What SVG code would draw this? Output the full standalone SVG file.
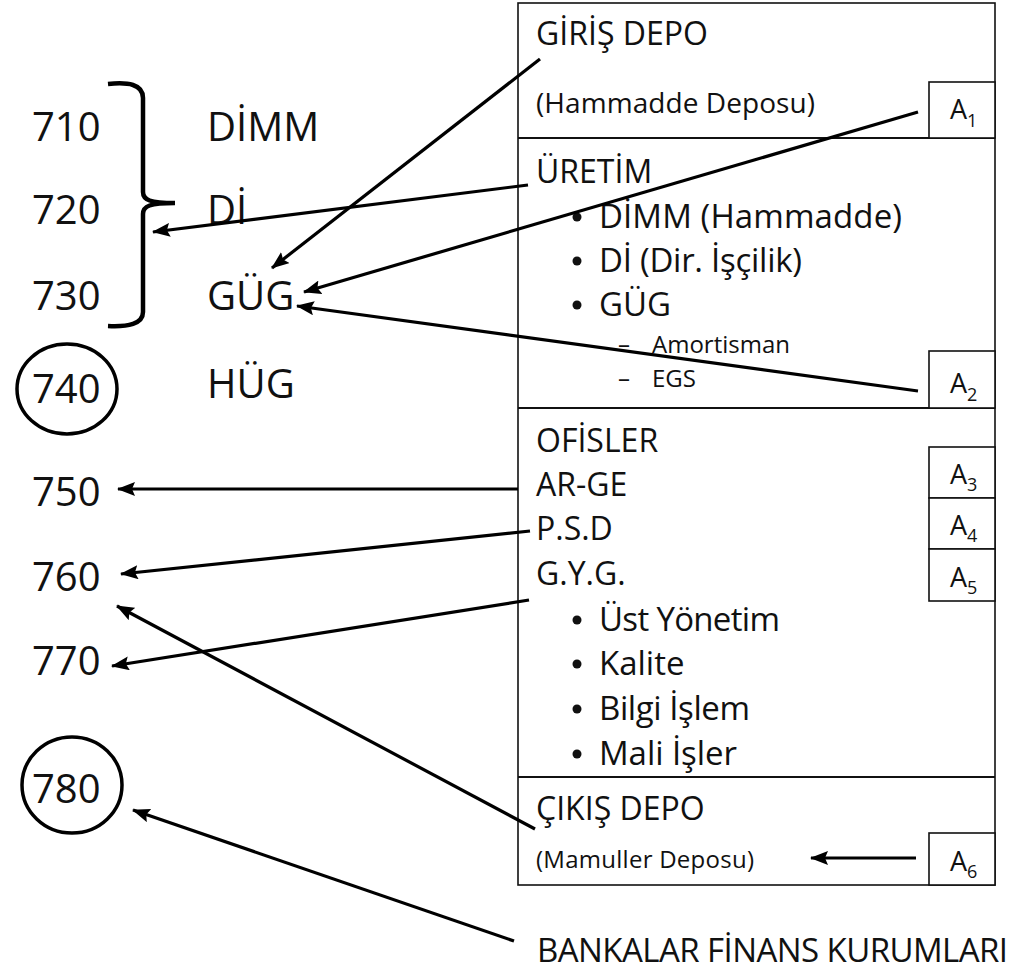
<svg xmlns="http://www.w3.org/2000/svg" width="1030" height="980" viewBox="0 0 1030 980">
<style>
text{font-family:"Open Sans","Noto Sans",sans-serif;fill:#111}
.num{font-size:40px}
.lbl{font-size:40px}
.ttl{font-size:32px}
.blt{font-size:33px}
.sml{font-size:24px}
.a{font-size:27px}
.sub{font-size:18px}
.dot{fill:#111}
.box{fill:#fff;stroke:#111;stroke-width:1.6}
.div{stroke:#111;stroke-width:2}
.con{stroke:#000;stroke-width:3.2;fill:none;marker-end:url(#ah)}
.ring{fill:none;stroke:#000;stroke-width:3.5}
</style>
<defs>
<marker id="ah" markerUnits="userSpaceOnUse" markerWidth="18" markerHeight="14" viewBox="0 0 18 14" refX="17" refY="7" orient="auto">
<path d="M0,0 L18,7 L0,14 L3,7 z" fill="#000"/>
</marker>
</defs>
<rect width="1030" height="980" fill="#fff"/>

<g id="main-box">
<rect class="box" x="518" y="3" width="477" height="882"/>
<line class="div" x1="518" y1="138" x2="995" y2="138"/>
<line class="div" x1="518" y1="408" x2="995" y2="408"/>
<line class="div" x1="518" y1="777" x2="995" y2="777"/>
</g>

<g id="giris-depo">
<text class="ttl" x="536" y="45">GİRİŞ DEPO</text>
<text class="ttl" x="536" y="113" style="font-size:28px" textLength="279">(Hammadde Deposu)</text>
</g>

<g id="uretim">
<text class="ttl" x="536" y="183">ÜRETİM</text>
<circle class="dot" cx="577" cy="217" r="4.5"/><text class="blt" x="599" y="228" textLength="303">DİMM (Hammadde)</text>
<circle class="dot" cx="577" cy="261" r="4.5"/><text class="blt" x="599" y="272" textLength="203">Dİ (Dir. İşçilik)</text>
<circle class="dot" cx="577" cy="305" r="4.5"/><text class="blt" x="599" y="316">GÜG</text>
<text class="sml" x="618" y="353">–</text><text class="sml" x="652" y="353" textLength="138">Amortisman</text>
<text class="sml" x="618" y="387">–</text><text class="sml" x="652" y="387">EGS</text>
</g>

<g id="ofisler">
<text class="ttl" x="536" y="452">OFİSLER</text>
<text class="ttl" x="536" y="496">AR-GE</text>
<text class="ttl" x="536" y="540">P.S.D</text>
<text class="ttl" x="536" y="585">G.Y.G.</text>
<circle class="dot" cx="577" cy="620" r="4.5"/><text class="blt" x="599" y="631" textLength="181">Üst Yönetim</text>
<circle class="dot" cx="577" cy="664" r="4.5"/><text class="blt" x="599" y="675">Kalite</text>
<circle class="dot" cx="577" cy="709" r="4.5"/><text class="blt" x="599" y="720" textLength="151">Bilgi İşlem</text>
<circle class="dot" cx="577" cy="754" r="4.5"/><text class="blt" x="599" y="765" textLength="138">Mali İşler</text>
</g>

<g id="cikis-depo">
<text class="ttl" x="536" y="820">ÇIKIŞ DEPO</text>
<text class="sml" x="536" y="868" textLength="218">(Mamuller Deposu)</text>
</g>

<g id="a-boxes">
<rect class="box" x="929" y="82" width="66" height="56"/>
<text class="a" x="950" y="119">A<tspan class="sub" dy="8">1</tspan></text>
<rect class="box" x="929" y="351" width="66" height="57"/>
<text class="a" x="950" y="393">A<tspan class="sub" dy="8">2</tspan></text>
<rect class="box" x="929" y="447" width="66" height="51"/>
<text class="a" x="950" y="484">A<tspan class="sub" dy="7">3</tspan></text>
<rect class="box" x="929" y="498" width="66" height="51"/>
<text class="a" x="950" y="535">A<tspan class="sub" dy="7">4</tspan></text>
<rect class="box" x="929" y="549" width="66" height="52"/>
<text class="a" x="950" y="587">A<tspan class="sub" dy="7">5</tspan></text>
<rect class="box" x="929" y="833" width="66" height="52"/>
<text class="a" x="950" y="871">A<tspan class="sub" dy="7">6</tspan></text>
</g>

<g id="left-codes">
<text class="num" x="32" y="141">710</text>
<text class="num" x="32" y="224">720</text>
<text class="num" x="32" y="310">730</text>
<ellipse class="ring" cx="67" cy="389" rx="50" ry="45"/>
<text class="num" x="32" y="403">740</text>
<text class="num" x="32" y="506">750</text>
<text class="num" x="32" y="591">760</text>
<text class="num" x="32" y="675">770</text>
<ellipse class="ring" cx="72" cy="785" rx="50" ry="48"/>
<text class="num" x="32" y="803">780</text>
</g>

<g id="brace">
<path d="M108,84 C128,82 143,84 143,98 L143,192 C143,200 150,203 175,203 C150,203 143,206 143,214 L143,312 C143,324 128,327 108,326" fill="none" stroke="#000" stroke-width="4.5"/>
</g>

<g id="cost-items">
<text class="lbl" x="207" y="141">DİMM</text>
<text class="lbl" x="207" y="224">Dİ</text>
<text class="lbl" x="207" y="310">GÜG</text>
<text class="lbl" x="207" y="398">HÜG</text>
</g>

<g id="banks">
<text class="blt" x="537" y="962" textLength="471">BANKALAR FİNANS KURUMLARI</text>
</g>

<g id="connectors">
<line class="con" x1="540" y1="59" x2="272" y2="268"/>
<line class="con" x1="918" y1="112" x2="304" y2="292"/>
<line class="con" x1="528" y1="185" x2="153" y2="232"/>
<line class="con" x1="918" y1="391" x2="297" y2="306"/>
<line class="con" x1="518" y1="489" x2="118" y2="489"/>
<line class="con" x1="530" y1="531" x2="121" y2="574"/>
<line class="con" x1="529" y1="600" x2="112" y2="666"/>
<line class="con" x1="535" y1="829" x2="117" y2="606"/>
<line class="con" x1="916" y1="858" x2="811" y2="858"/>
<line class="con" x1="514" y1="941" x2="133" y2="810"/>
</g>
</svg>
